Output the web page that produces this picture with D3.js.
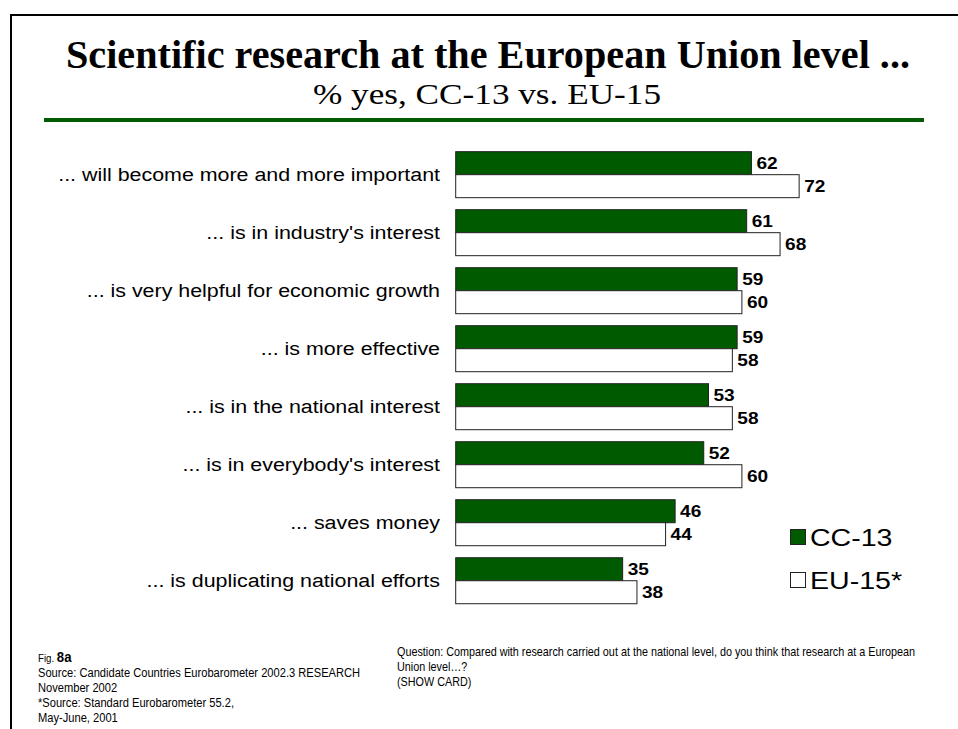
<!DOCTYPE html>
<html>
<head>
<meta charset="utf-8">
<script src="https://cdn.jsdelivr.net/npm/d3@7"></script>
<style>
  html, body { margin: 0; padding: 0; background: #fff; }
  svg { display: block; }
</style>
</head>
<body>
<svg id="chart" width="958" height="729"></svg>
<script>
// Statements about EU-level research and the share answering "yes"
const categories = [
  "... will become more and more important",
  "... is in industry's interest",
  "... is very helpful for economic growth",
  "... is more effective",
  "... is in the national interest",
  "... is in everybody's interest",
  "... saves money",
  "... is duplicating national efforts"
];
const seriesNames = ["CC-13", "EU-15*"];
const cc13 = [62, 61, 59, 59, 53, 52, 46, 35];
const eu15 = [72, 68, 60, 58, 58, 60, 44, 38];

const titleText = "Scientific research at the European Union level ...";
const subtitleText = "% yes, CC-13 vs. EU-15";
const sourceLines = [
  "Source: Candidate Countries Eurobarometer 2002.3 RESEARCH",
  "November  2002",
  "*Source: Standard Eurobarometer 55.2,",
  "May-June, 2001"
];
const questionLines = [
  "Question:  Compared with research carried out at the national level, do you think that research at a European",
  "Union level\u2026?",
  "(SHOW CARD)"
];

const GREEN = "#005a00";
const sans = "'Liberation Sans', Arial, sans-serif";
const serif = "'Liberation Serif', 'Times New Roman', serif";

// Slide typography is slightly wider than the stock faces
const WIDE = 1.19;

const svg = d3.select("#chart");

// Places a text horizontally scaled around its anchor point
function scaledText(parent, px, py, sx) {
  return parent.append("text")
    .attr("transform", `translate(${px},${py}) scale(${sx},1)`)
    .attr("x", 0).attr("y", 0);
}

// Frame: top and left rules
svg.append("line").attr("x1", 11).attr("y1", 15).attr("x2", 958).attr("y2", 15)
  .attr("stroke", "#000").attr("stroke-width", 2);
svg.append("line").attr("x1", 11).attr("y1", 14).attr("x2", 11).attr("y2", 729)
  .attr("stroke", "#000").attr("stroke-width", 2);

// Title block
svg.append("text").attr("x", 488).attr("y", 68).attr("text-anchor", "middle")
  .attr("font-family", serif).attr("font-weight", "bold").attr("font-size", 39)
  .attr("textLength", 844).attr("lengthAdjust", "spacingAndGlyphs")
  .attr("fill", "#000").text(titleText);
svg.append("text").attr("x", 487).attr("y", 104).attr("text-anchor", "middle")
  .attr("font-family", serif).attr("font-size", 29)
  .attr("textLength", 348).attr("lengthAdjust", "spacingAndGlyphs")
  .attr("fill", "#000").text(subtitleText);
svg.append("rect").attr("x", 44).attr("y", 118).attr("width", 880).attr("height", 4)
  .attr("fill", GREEN);

// Scales
const x = d3.scaleLinear().domain([0, 100]).range([455.7, 932.7]);
const y = d3.scaleBand().domain(categories)
  .range([145.7, 609.7]).paddingInner(0.207).paddingOuter(0.103);
const sub = d3.scaleBand().domain(seriesNames).range([0, y.bandwidth()]);

const rows = categories.map((c, i) => ({ cat: c, vals: [cc13[i], eu15[i]] }));

const g = svg.append("g");
const groups = g.selectAll("g.row").data(rows).join("g")
  .attr("class", "row")
  .attr("transform", d => `translate(0,${y(d.cat)})`);

groups.selectAll("rect").data(d => d.vals.map((v, k) => ({ v, k }))).join("rect")
  .attr("x", x(0))
  .attr("y", d => sub(seriesNames[d.k]))
  .attr("width", d => x(d.v) - x(0))
  .attr("height", sub.bandwidth())
  .attr("fill", d => d.k === 0 ? GREEN : "#fff")
  .attr("stroke", "#222").attr("stroke-width", 1);

groups.each(function (d) {
  const row = d3.select(this);
  d.vals.forEach((v, k) => {
    scaledText(row, x(v) + 5, sub(seriesNames[k]) + sub.bandwidth() / 2, WIDE)
      .attr("dy", "0.36em")
      .attr("font-family", sans).attr("font-weight", "bold").attr("font-size", 16)
      .attr("fill", "#000")
      .text(v);
  });
  // Category label, right aligned against the bars
  scaledText(row, 440, y.bandwidth() / 2, WIDE)
    .attr("dy", "0.36em")
    .attr("text-anchor", "end")
    .attr("font-family", sans).attr("font-size", 18)
    .attr("fill", "#000")
    .text(d.cat);
});

// Legend
const legend = svg.append("g");
const legendY = [537, 580];
seriesNames.forEach((name, k) => {
  legend.append("rect").attr("x", 790.5).attr("y", legendY[k] - 7.5)
    .attr("width", 15).attr("height", 15)
    .attr("fill", k === 0 ? GREEN : "#fff").attr("stroke", "#222").attr("stroke-width", 1);
  scaledText(legend, 810, legendY[k], WIDE)
    .attr("dy", "0.36em")
    .attr("font-family", sans).attr("font-size", 24).attr("fill", "#000").text(name);
});

// Footer notes (condensed face)
const fig = scaledText(svg, 38, 662, 0.88)
  .attr("font-family", sans).attr("fill", "#000");
fig.append("tspan").attr("font-size", 11).text("Fig. ");
fig.append("tspan").attr("font-size", 15).attr("font-weight", "bold").text("8a");

const srcG = svg.append("g");
sourceLines.forEach((line, i) => {
  scaledText(srcG, 38, 677 + i * 15, 0.89)
    .attr("font-family", sans).attr("font-size", 12.5).attr("fill", "#000")
    .text(line);
});

const qG = svg.append("g");
questionLines.forEach((line, i) => {
  scaledText(qG, 397, 656 + i * 15, 0.865)
    .attr("font-family", sans).attr("font-size", 12.5).attr("fill", "#000")
    .text(line);
});
</script>
</body>
</html>
